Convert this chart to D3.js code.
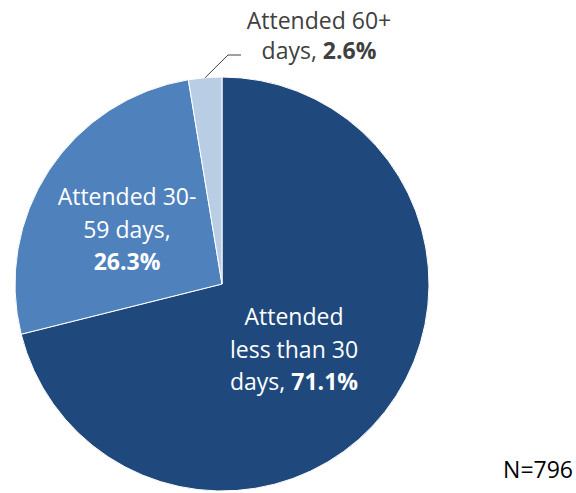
<!DOCTYPE html>
<html>
<head>
<meta charset="utf-8">
<script src="https://cdn.jsdelivr.net/npm/d3@7"></script>
<style>
  body { margin: 0; background: #fff; }
  svg { display: block; font-family: "Open Sans", "Liberation Sans", sans-serif; }
</style>
</head>
<body>
<svg id="chart" width="576" height="493"></svg>
<script>
const categories = ["Attended less than 30 days", "Attended 30-59 days", "Attended 60+ days"];
const values = [71.1, 26.3, 2.6];
const colors = ["#1F497D", "#4F81BD", "#B9CDE5"];
const labelLines = [
  [["Attended"], ["less than 30"], ["days, ", "71.1%"]],
  [["Attended 30-"], ["59 days,"], ["", "26.3%"]],
  [["Attended 60+"], ["days, ", "2.6%"]]
];
const sampleSize = "N=796";

const svg = d3.select("#chart");
const cx = 222, cy = 284, r = 207;

const pie = d3.pie().sort(null).value(d => d)(values);
const arc = d3.arc().innerRadius(0).outerRadius(r);

const g = svg.append("g").attr("transform", `translate(${cx},${cy})`);
g.selectAll("path")
  .data(pie)
  .join("path")
  .attr("d", arc)
  .attr("fill", (d, i) => colors[i])
  .attr("stroke", "#fff")
  .attr("stroke-width", 1);

// label anchor positions (relative to pie centre), first baseline + line height
const labelPos = [
  { x: 72, y: 41, lh: 32.5, color: "#fff" },
  { x: -95, y: -79, lh: 32.5, color: "#fff" },
  { x: 97, y: -255, lh: 30, color: "#404040" }
];

labelLines.forEach((lines, i) => {
  const p = labelPos[i];
  const t = g.append("text")
    .attr("text-anchor", "middle")
    .attr("font-size", 23)
    .attr("fill", p.color);
  lines.forEach((parts, j) => {
    const ts = t.append("tspan").attr("x", p.x).attr("y", p.y + j * p.lh);
    ts.text(parts[0]);
    if (parts[1]) ts.append("tspan").attr("font-weight", "bold").text(parts[1]);
  });
});

// leader line for the small slice
const small = pie[2];
const mid = (small.startAngle + small.endAngle) / 2;
const p0 = [Math.sin(mid) * r, -Math.cos(mid) * r];
g.append("polyline")
  .attr("points", [p0, [6, -229], [19, -229]].map(p => p.join(",")).join(" "))
  .attr("fill", "none")
  .attr("stroke", "#404040")
  .attr("stroke-width", 1);

svg.append("text")
  .attr("x", 573)
  .attr("y", 478)
  .attr("text-anchor", "end")
  .attr("font-size", 23)
  .attr("fill", "#000")
  .text(sampleSize);
</script>
</body>
</html>
